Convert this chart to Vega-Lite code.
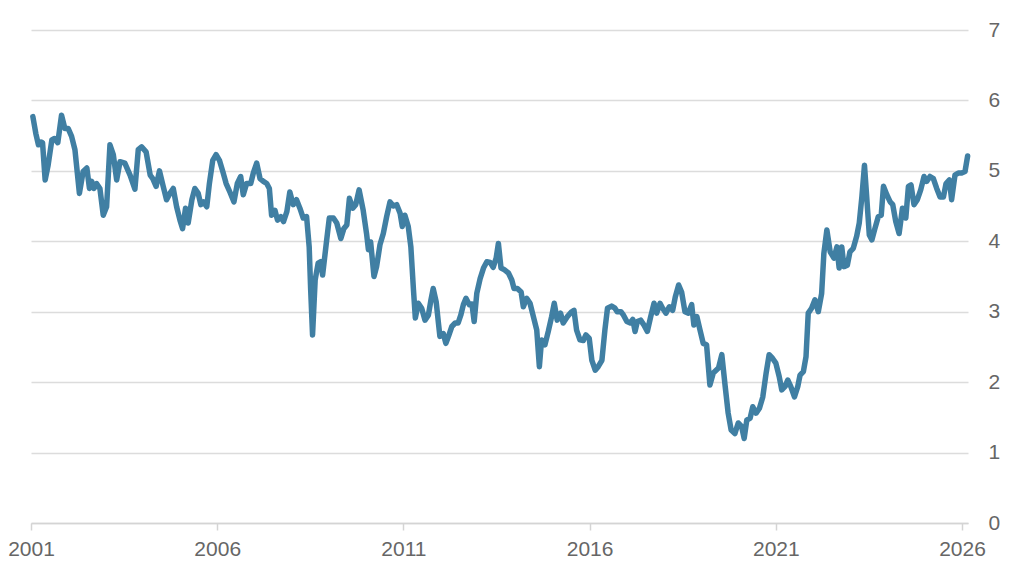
{
  "$schema": "https://vega.github.io/schema/vega-lite/v6.json",
  "autosize": {"type": "none"},
  "width": 937,
  "height": 493,
  "padding": {"left": 31, "top": 30, "right": 52, "bottom": 58},
  "background": "white",
  "config": {"view": {"stroke": null}, "font": "Liberation Sans"},
  "data": {"values": [
    {"t":2001.05,"v":5.77},{"t":2001.13,"v":5.53},{"t":2001.20,"v":5.37},{"t":2001.27,"v":5.41},{"t":2001.31,"v":5.40},{"t":2001.38,"v":4.87},{"t":2001.46,"v":5.08},{"t":2001.56,"v":5.44},{"t":2001.63,"v":5.46},{"t":2001.72,"v":5.40},{"t":2001.82,"v":5.79},{"t":2001.91,"v":5.60},{"t":2002.00,"v":5.60},{"t":2002.09,"v":5.49},{"t":2002.18,"v":5.30},{"t":2002.30,"v":4.68},{"t":2002.40,"v":4.99},{"t":2002.50,"v":5.04},{"t":2002.57,"v":4.75},{"t":2002.63,"v":4.85},{"t":2002.69,"v":4.75},{"t":2002.76,"v":4.82},{"t":2002.85,"v":4.75},{"t":2002.94,"v":4.37},
    {"t":2003.03,"v":4.49},{"t":2003.12,"v":5.37},{"t":2003.21,"v":5.23},{"t":2003.30,"v":4.87},{"t":2003.39,"v":5.13},{"t":2003.52,"v":5.11},{"t":2003.66,"v":4.94},{"t":2003.79,"v":4.74},{"t":2003.88,"v":5.30},{"t":2003.97,"v":5.34},{"t":2004.09,"v":5.27},{"t":2004.20,"v":4.94},{"t":2004.27,"v":4.89},{"t":2004.36,"v":4.78},{"t":2004.45,"v":5.00},{"t":2004.55,"v":4.78},{"t":2004.64,"v":4.59},{"t":2004.73,"v":4.68},{"t":2004.82,"v":4.75},{"t":2004.91,"v":4.49},{"t":2005.00,"v":4.30},{"t":2005.07,"v":4.18},{"t":2005.15,"v":4.47},{"t":2005.22,"v":4.26},{"t":2005.32,"v":4.59},{"t":2005.40,"v":4.75},{"t":2005.49,"v":4.68},{"t":2005.56,"v":4.52},{"t":2005.63,"v":4.56},{"t":2005.72,"v":4.49},{"t":2005.79,"v":4.82},{"t":2005.88,"v":5.15},{"t":2005.97,"v":5.23},
    {"t":2006.06,"v":5.15},{"t":2006.15,"v":4.99},{"t":2006.24,"v":4.82},{"t":2006.34,"v":4.70},{"t":2006.45,"v":4.56},{"t":2006.54,"v":4.82},{"t":2006.63,"v":4.92},{"t":2006.70,"v":4.66},{"t":2006.79,"v":4.82},{"t":2006.90,"v":4.82},{"t":2006.97,"v":4.97},{"t":2007.06,"v":5.11},{"t":2007.15,"v":4.89},{"t":2007.24,"v":4.85},{"t":2007.33,"v":4.82},{"t":2007.40,"v":4.75},{"t":2007.46,"v":4.37},{"t":2007.55,"v":4.44},{"t":2007.62,"v":4.30},{"t":2007.71,"v":4.35},{"t":2007.78,"v":4.28},{"t":2007.87,"v":4.42},{"t":2007.95,"v":4.70},{"t":2008.04,"v":4.52},{"t":2008.13,"v":4.59},{"t":2008.22,"v":4.47},{"t":2008.31,"v":4.33},{"t":2008.40,"v":4.35},{"t":2008.47,"v":3.92},{"t":2008.51,"v":3.31},{"t":2008.56,"v":2.67},{"t":2008.63,"v":3.45},{"t":2008.71,"v":3.69},{"t":2008.78,"v":3.71},{"t":2008.83,"v":3.52},{"t":2008.94,"v":4.02},
    {"t":2009.01,"v":4.33},{"t":2009.12,"v":4.33},{"t":2009.21,"v":4.26},{"t":2009.32,"v":4.04},{"t":2009.40,"v":4.18},{"t":2009.48,"v":4.23},{"t":2009.55,"v":4.61},{"t":2009.64,"v":4.47},{"t":2009.72,"v":4.52},{"t":2009.81,"v":4.73},{"t":2009.92,"v":4.44},{"t":2010.01,"v":4.11},{"t":2010.06,"v":3.88},{"t":2010.12,"v":3.99},{"t":2010.21,"v":3.50},{"t":2010.28,"v":3.64},{"t":2010.37,"v":3.95},{"t":2010.46,"v":4.11},{"t":2010.55,"v":4.35},{"t":2010.64,"v":4.56},{"t":2010.73,"v":4.50},{"t":2010.82,"v":4.52},{"t":2010.91,"v":4.40},{"t":2010.97,"v":4.21},{"t":2011.04,"v":4.37},{"t":2011.13,"v":4.21},{"t":2011.20,"v":3.92},{"t":2011.27,"v":3.31},{"t":2011.32,"v":2.91},{"t":2011.40,"v":3.12},{"t":2011.49,"v":3.05},{"t":2011.58,"v":2.88},{"t":2011.67,"v":2.95},{"t":2011.74,"v":3.17},{"t":2011.80,"v":3.33},{"t":2011.88,"v":3.14},{"t":2011.94,"v":2.84},{"t":2011.98,"v":2.65},
    {"t":2012.07,"v":2.69},{"t":2012.14,"v":2.55},{"t":2012.21,"v":2.65},{"t":2012.30,"v":2.79},{"t":2012.39,"v":2.84},{"t":2012.47,"v":2.84},{"t":2012.54,"v":2.95},{"t":2012.61,"v":3.10},{"t":2012.68,"v":3.19},{"t":2012.77,"v":3.10},{"t":2012.84,"v":3.11},{"t":2012.90,"v":2.86},{"t":2012.97,"v":3.26},{"t":2013.06,"v":3.47},{"t":2013.15,"v":3.62},{"t":2013.24,"v":3.71},{"t":2013.33,"v":3.70},{"t":2013.41,"v":3.63},{"t":2013.49,"v":3.76},{"t":2013.55,"v":3.97},{"t":2013.62,"v":3.62},{"t":2013.70,"v":3.60},{"t":2013.82,"v":3.55},{"t":2013.91,"v":3.45},{"t":2013.97,"v":3.33},{"t":2014.06,"v":3.33},{"t":2014.16,"v":3.28},{"t":2014.22,"v":3.07},{"t":2014.31,"v":3.19},{"t":2014.40,"v":3.12},{"t":2014.49,"v":2.93},{"t":2014.58,"v":2.74},{"t":2014.65,"v":2.22},{"t":2014.71,"v":2.60},{"t":2014.80,"v":2.53},{"t":2014.89,"v":2.72},{"t":2014.98,"v":2.93},
    {"t":2015.05,"v":3.12},{"t":2015.13,"v":2.88},{"t":2015.22,"v":2.98},{"t":2015.29,"v":2.84},{"t":2015.40,"v":2.93},{"t":2015.52,"v":3.00},{"t":2015.58,"v":3.02},{"t":2015.65,"v":2.74},{"t":2015.74,"v":2.60},{"t":2015.83,"v":2.59},{"t":2015.90,"v":2.67},{"t":2015.99,"v":2.62},{"t":2016.06,"v":2.31},{"t":2016.15,"v":2.17},{"t":2016.23,"v":2.22},{"t":2016.33,"v":2.31},{"t":2016.41,"v":2.74},{"t":2016.48,"v":3.05},{"t":2016.59,"v":3.08},{"t":2016.68,"v":3.05},{"t":2016.74,"v":3.00},{"t":2016.84,"v":3.00},{"t":2016.91,"v":2.95},{"t":2017.00,"v":2.86},{"t":2017.09,"v":2.84},{"t":2017.16,"v":2.89},{"t":2017.22,"v":2.72},{"t":2017.28,"v":2.86},{"t":2017.37,"v":2.88},{"t":2017.46,"v":2.81},{"t":2017.55,"v":2.72},{"t":2017.64,"v":2.93},{"t":2017.73,"v":3.12},{"t":2017.80,"v":2.98},{"t":2017.89,"v":3.12},{"t":2017.96,"v":3.05},
    {"t":2018.05,"v":2.98},{"t":2018.14,"v":3.07},{"t":2018.23,"v":3.02},{"t":2018.30,"v":3.21},{"t":2018.39,"v":3.38},{"t":2018.47,"v":3.28},{"t":2018.56,"v":3.00},{"t":2018.65,"v":2.98},{"t":2018.74,"v":3.10},{"t":2018.80,"v":2.81},{"t":2018.88,"v":2.93},{"t":2018.96,"v":2.75},{"t":2019.05,"v":2.55},{"t":2019.14,"v":2.53},{"t":2019.23,"v":1.96},{"t":2019.32,"v":2.13},{"t":2019.46,"v":2.20},{"t":2019.55,"v":2.39},{"t":2019.64,"v":1.94},{"t":2019.72,"v":1.56},{"t":2019.80,"v":1.32},{"t":2019.90,"v":1.27},{"t":2019.99,"v":1.42},{"t":2020.08,"v":1.37},{"t":2020.15,"v":1.20},{"t":2020.22,"v":1.46},{"t":2020.31,"v":1.49},{"t":2020.38,"v":1.65},{"t":2020.47,"v":1.56},{"t":2020.56,"v":1.63},{"t":2020.65,"v":1.79},{"t":2020.74,"v":2.13},{"t":2020.82,"v":2.39},{"t":2020.91,"v":2.34},
    {"t":2021.00,"v":2.27},{"t":2021.09,"v":2.08},{"t":2021.16,"v":1.89},{"t":2021.25,"v":1.94},{"t":2021.32,"v":2.03},{"t":2021.40,"v":1.94},{"t":2021.50,"v":1.79},{"t":2021.59,"v":1.94},{"t":2021.65,"v":2.10},{"t":2021.74,"v":2.15},{"t":2021.81,"v":2.36},{"t":2021.87,"v":2.98},{"t":2021.96,"v":3.05},{"t":2022.05,"v":3.17},{"t":2022.14,"v":3.00},{"t":2022.23,"v":3.26},{"t":2022.29,"v":3.83},{"t":2022.37,"v":4.16},{"t":2022.46,"v":3.85},{"t":2022.56,"v":3.76},{"t":2022.64,"v":3.92},{"t":2022.70,"v":3.62},{"t":2022.77,"v":3.92},{"t":2022.83,"v":3.64},{"t":2022.92,"v":3.66},{"t":2022.99,"v":3.85},{"t":2023.08,"v":3.90},{"t":2023.17,"v":4.07},{"t":2023.24,"v":4.26},{"t":2023.31,"v":4.63},{"t":2023.38,"v":5.08},{"t":2023.44,"v":4.63},{"t":2023.51,"v":4.09},{"t":2023.58,"v":4.02},{"t":2023.66,"v":4.18},{"t":2023.75,"v":4.35},{"t":2023.83,"v":4.37},{"t":2023.89,"v":4.78},{"t":2023.98,"v":4.66},
    {"t":2024.07,"v":4.56},{"t":2024.14,"v":4.52},{"t":2024.22,"v":4.28},{"t":2024.31,"v":4.11},{"t":2024.40,"v":4.47},{"t":2024.49,"v":4.33},{"t":2024.56,"v":4.78},{"t":2024.63,"v":4.80},{"t":2024.71,"v":4.52},{"t":2024.80,"v":4.59},{"t":2024.89,"v":4.73},{"t":2024.98,"v":4.92},{"t":2025.05,"v":4.85},{"t":2025.14,"v":4.92},{"t":2025.23,"v":4.89},{"t":2025.32,"v":4.75},{"t":2025.41,"v":4.63},{"t":2025.50,"v":4.63},{"t":2025.57,"v":4.82},{"t":2025.66,"v":4.87},{"t":2025.72,"v":4.59},{"t":2025.81,"v":4.94},{"t":2025.90,"v":4.97},{"t":2025.99,"v":4.97},{"t":2026.08,"v":4.99},{"t":2026.15,"v":5.21}
  ]},
  "mark": {"type": "line", "color": "#407fa3", "strokeWidth": 5.5, "strokeCap": "round", "strokeJoin": "round"},
  "encoding": {
    "x": {
      "field": "t", "type": "quantitative",
      "scale": {"domain": [2001, 2026.16], "nice": false, "zero": false},
      "axis": {
        "title": null, "values": [2001, 2006, 2011, 2016, 2021, 2026], "format": "d",
        "grid": false, "domainColor": "#d4d4d4", "domainWidth": 1.5,
        "tickColor": "#d4d4d4", "tickWidth": 1.5, "tickSize": 7,
        "labelFontSize": 21, "labelColor": "#666666", "labelPadding": 8, "labelFlush": false
      }
    },
    "y": {
      "field": "v", "type": "quantitative",
      "scale": {"domain": [0, 7], "nice": false},
      "axis": {
        "title": null, "orient": "right", "values": [0, 1, 2, 3, 4, 5, 6, 7],
        "domain": false, "ticks": false, "grid": true,
        "gridColor": "#dcdcdc", "gridWidth": 1.5,
        "labelFontSize": 21, "labelColor": "#666666", "labelPadding": 20, "labelAlign": "left"
      }
    }
  }
}
